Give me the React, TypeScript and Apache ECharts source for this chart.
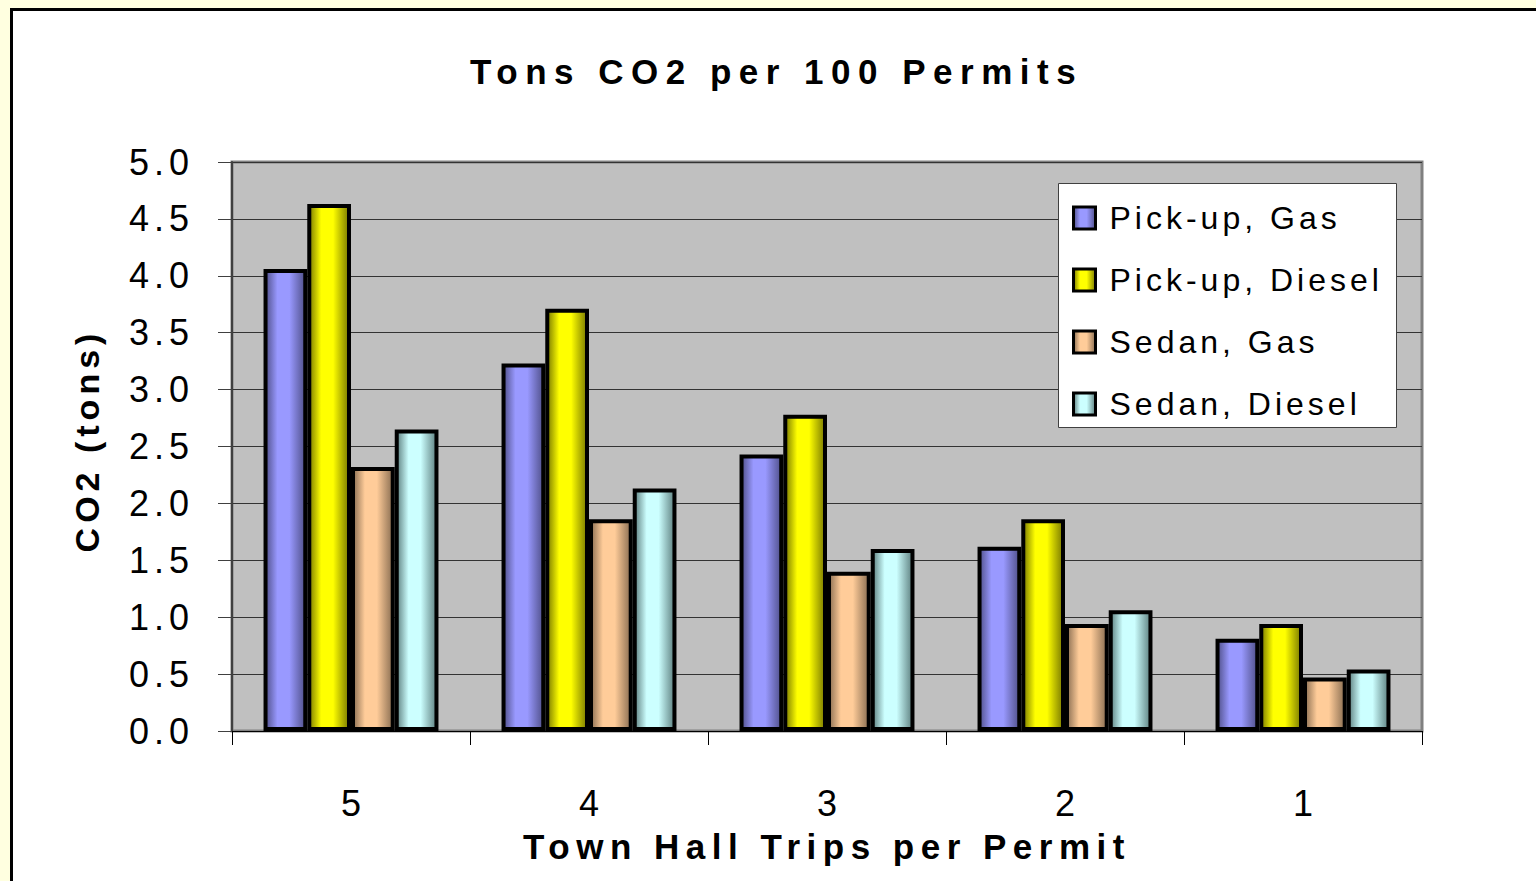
import React, { useEffect, useRef } from "react";
import * as echarts from "echarts";

const TITLE = "Tons CO2 per 100 Permits";
const X_NAME = "Town Hall Trips per Permit";
const Y_NAME = "CO2 (tons)";
const categories = ["5", "4", "3", "2", "1"];
const seriesNames = ["Pick-up, Gas", "Pick-up, Diesel", "Sedan, Gas", "Sedan, Diesel"];
const pickupGas = [4.06, 3.23, 2.43, 1.62, 0.81];
const pickupDiesel = [4.63, 3.71, 2.78, 1.86, 0.94];
const sedanGas = [2.32, 1.86, 1.4, 0.94, 0.47];
const sedanDiesel = [2.65, 2.13, 1.6, 1.06, 0.54];
const seriesValues = [pickupGas, pickupDiesel, sedanGas, sedanDiesel];
const baseColors = ["#9999ff", "#ffff00", "#ffcc99", "#ccffff"];
const darkColors = ["#50508a", "#7a7a00", "#8a6e52", "#5e8080"];

const FONT = "'Liberation Sans', Arial, sans-serif";

function grad(base: string, dark: string) {
  return new echarts.graphic.LinearGradient(0, 0, 1, 0, [
    { offset: 0, color: dark },
    { offset: 0.3, color: base },
    { offset: 0.6, color: base },
    { offset: 1, color: dark },
  ]);
}

function applySpacing(root: HTMLElement | null) {
  if (!root) return;
  root.querySelectorAll("text").forEach((t) => {
    const s = (t.textContent || "").trim();
    let ls = 0;
    if (s === TITLE) ls = 7.5;
    else if (s === X_NAME) ls = 6.5;
    else if (s === Y_NAME) ls = 5;
    else if (seriesNames.includes(s)) ls = 4;
    else if (/^\d\.\d$/.test(s)) ls = 5;
    if (ls) (t as SVGTextElement).style.letterSpacing = ls + "px";
  });
}

export default function App() {
  const ref = useRef<HTMLDivElement>(null);
  useEffect(() => {
    if (!ref.current) return;
    const chart = echarts.init(ref.current, undefined, { renderer: "svg" });
    const option: any = {
      animation: false,
      backgroundColor: "transparent",
      title: {
        text: TITLE,
        left: 465,
        top: 49,
        textStyle: { fontFamily: FONT, fontSize: 35, fontWeight: "bold", color: "#000" },
      },
      graphic: [
        {
          type: "rect",
          left: 1058,
          top: 183,
          z: 3,
          silent: true,
          shape: { width: 338, height: 244 },
          style: { fill: "#ffffff", stroke: "#404040", lineWidth: 1 },
        },
      ],
      legend: {
        orient: "vertical",
        left: 1072,
        top: 202,
        padding: 0,
        itemGap: 30,
        itemWidth: 22,
        itemHeight: 22,
        icon: "rect",
        data: seriesNames,
        itemStyle: { borderColor: "#000", borderWidth: 3 },
        textStyle: {
          fontFamily: FONT,
          fontSize: 32,
          lineHeight: 32,
          color: "#000",
          padding: [0, 0, 0, 9],
        },
      },
      grid: {
        left: 232,
        right: 114,
        top: 162,
        bottom: 150,
        show: true,
        backgroundColor: "#c0c0c0",
        borderColor: "#808080",
        borderWidth: 3,
      },
      xAxis: {
        type: "category",
        data: categories,
        name: X_NAME,
        nameLocation: "middle",
        nameGap: 98,
        nameTextStyle: { fontFamily: FONT, fontSize: 35, fontWeight: "bold", color: "#000" },
        axisLine: { show: true, lineStyle: { color: "#000", width: 1 } },
        axisTick: { show: true, alignWithLabel: false, length: 14, lineStyle: { color: "#000", width: 1 } },
        axisLabel: { fontFamily: FONT, fontSize: 36, color: "#000", margin: 54 },
      },
      yAxis: {
        type: "value",
        min: 0,
        max: 5,
        interval: 0.5,
        name: Y_NAME,
        nameLocation: "middle",
        nameGap: 128,
        nameTextStyle: { fontFamily: FONT, fontSize: 34, fontWeight: "bold", color: "#000", padding: [0, 0, 0, 12] },
        axisLine: { show: true, lineStyle: { color: "#404040", width: 2 } },
        axisTick: { show: true, length: 14, lineStyle: { color: "#404040", width: 1 } },
        axisLabel: {
          fontFamily: FONT,
          fontSize: 36,
          color: "#000",
          margin: 38,
          formatter: (v: number) => v.toFixed(1),
        },
        splitLine: { show: true, lineStyle: { color: "#333", width: 1 } },
      },
      series: seriesNames.map((name, i) => ({
        name,
        type: "bar",
        data: seriesValues[i],
        barGap: "0%",
        barCategoryGap: "26.5%",
        itemStyle: {
          color: grad(baseColors[i], darkColors[i]),
          borderColor: "#000",
          borderWidth: 4,
        },
      })),
    };
    chart.setOption(option);
    const root = ref.current;
    const handler = () => applySpacing(root);
    chart.on("rendered", handler);
    applySpacing(root);
    const id = window.setTimeout(() => applySpacing(root), 50);
    return () => {
      window.clearTimeout(id);
      chart.dispose();
    };
  }, []);

  return (
    <div
      style={{
        position: "fixed",
        left: 0,
        top: 0,
        width: 1536,
        height: 881,
        background: "#ffffe0",
        overflow: "hidden",
      }}
    >
      <div
        style={{
          position: "absolute",
          left: 10,
          top: 8,
          width: 1600,
          height: 1000,
          border: "3px solid #000",
          background: "#ffffff",
        }}
      />
      <div ref={ref} style={{ position: "absolute", left: 0, top: 0, width: 1536, height: 881 }} />
    </div>
  );
}
